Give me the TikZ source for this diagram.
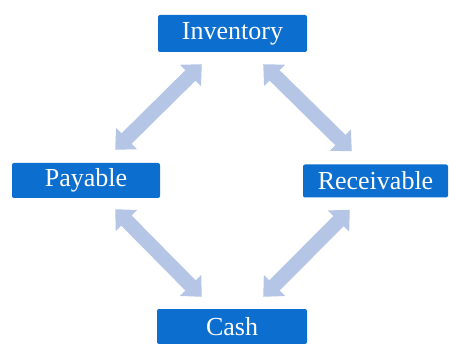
\documentclass[tikz,border=0pt]{standalone}
\usepackage{fontspec}
\setmainfont{Liberation Serif}
\usepackage{tikz}
\usetikzlibrary{arrows.meta}

\definecolor{boxblue}{RGB}{12,110,206}
\definecolor{arrowblue}{RGB}{180,197,230}

\tikzset{
  stage/.style={fill=boxblue, text=white, rounded corners=2pt, inner sep=0pt, minimum width=148pt, minimum height=35pt, font=\fontsize{26}{30}\selectfont},
  flow/.style={arrowblue, line width=14.5pt, {Triangle[width=29pt,length=16pt]}-{Triangle[width=29pt,length=16pt]}}
}

\begin{document}
\begin{tikzpicture}[x=1pt, y=-1pt]
\useasboundingbox (0,0) rectangle (449,344);

\node [stage, minimum width=149pt, minimum height=37pt] (inv) at (232.5,33.5) {Inventory};
\node [stage] (pay) at (86,180.5) {Payable};
\node [stage, minimum width=145pt, minimum height=33pt] (rec) at (375.5,181) {Receivable};
\node [stage, minimum width=150pt] (cash) at (232,326.5) {Cash};

\draw [flow] ([shift={(-45,-13)}]pay.north east) -- ([shift={(44,12)}]inv.south west);
\draw [flow] ([shift={(-44,12)}]inv.south east) -- ([shift={(49,-13)}]rec.north west);
\draw [flow] ([shift={(-45,11)}]pay.south east) -- ([shift={(45,-12)}]cash.north west);
\draw [flow] ([shift={(47,12)}]rec.south west) -- ([shift={(-44,-12)}]cash.north east);
\end{tikzpicture}
\end{document}
